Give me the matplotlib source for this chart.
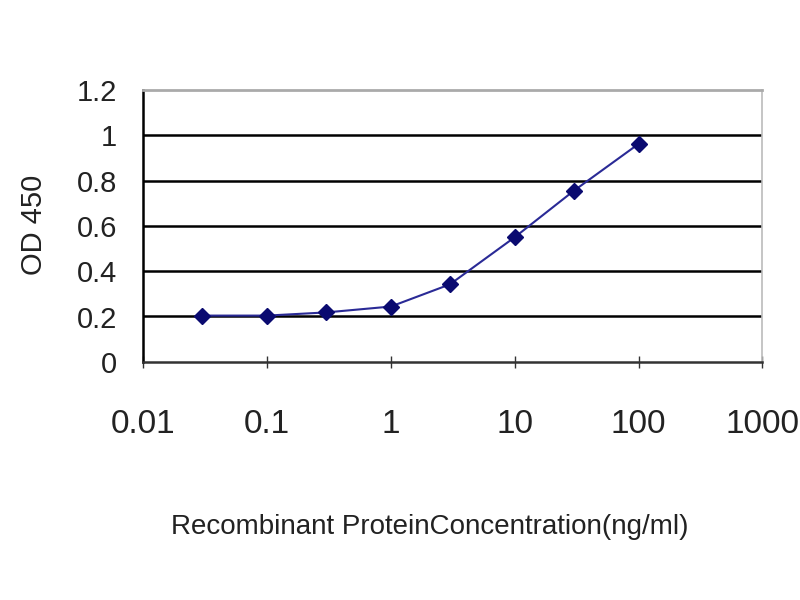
import matplotlib
matplotlib.use("Agg")
import matplotlib.pyplot as plt

# concentrations (ng/ml) and OD readings
conc = [0.03, 0.1, 0.3, 1, 3, 10, 30, 100]
od = [0.204, 0.204, 0.218, 0.244, 0.342, 0.55, 0.755, 0.962]

x_ticks = [0.01, 0.1, 1, 10, 100, 1000]
x_labels = ["0.01", "0.1", "1", "10", "100", "1000"]
y_ticks = [0, 0.2, 0.4, 0.6, 0.8, 1, 1.2]
y_labels = ["0", "0.2", "0.4", "0.6", "0.8", "1", "1.2"]

plt.rcParams["font.family"] = ["Liberation Sans", "DejaVu Sans"]

fig = plt.figure(figsize=(8, 6), dpi=100)
ax = fig.add_axes([0.179, 0.397, 0.774, 0.453])

ax.set_xscale("log")
ax.set_xlim(0.01, 1000)
ax.set_ylim(0, 1.2)

for y in y_ticks[1:-1]:
    ax.axhline(y, color="black", linewidth=1.8, zorder=1)

ax.plot(conc, od, color="#2a2a96", linewidth=1.5, marker="D", markersize=8,
        markerfacecolor="#0a0a70", markeredgecolor="#0a0a70", zorder=3)

ax.set_xticks(x_ticks)
ax.set_xticklabels(x_labels, fontsize=24, color="#222222")
ax.minorticks_off()
ax.set_yticks(y_ticks)
ax.set_yticklabels(y_labels, fontsize=21, color="#222222")
ax.tick_params(axis="x", direction="inout", length=8, width=1, pad=30, color="#333333")
ax.tick_params(axis="y", length=0, pad=19)

ax.spines["left"].set_color("black")
ax.spines["left"].set_linewidth(1.8)
ax.spines["bottom"].set_color("#333333")
ax.spines["bottom"].set_linewidth(1.8)
ax.spines["top"].set_color("#aaaaaa")
ax.spines["top"].set_linewidth(2)
ax.spines["right"].set_color("#bbbbbb")
ax.spines["right"].set_linewidth(1.2)

fig.text(0.043, 0.625, "OD 450", rotation=90, fontsize=21, ha="center", va="center", color="#222222")
fig.text(0.537, 0.122, "Recombinant ProteinConcentration(ng/ml)", fontsize=20,
         ha="center", va="center", color="#222222")

fig.savefig("out.png", dpi=100)
